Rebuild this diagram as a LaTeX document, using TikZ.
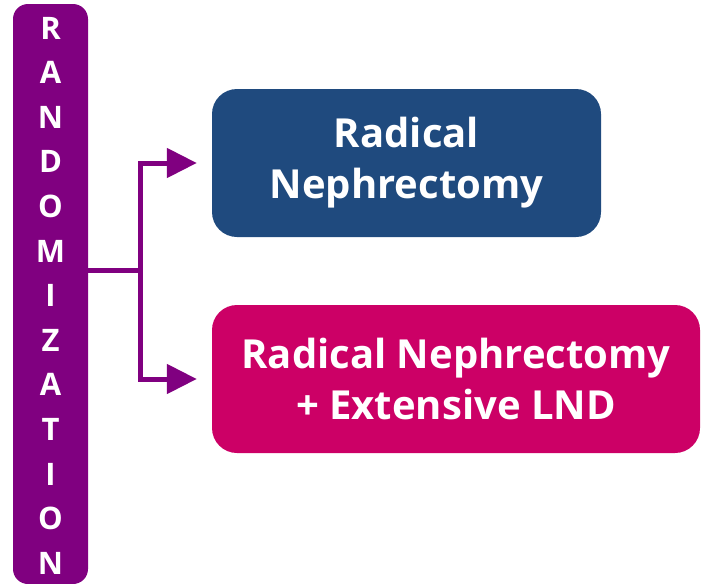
\documentclass[tikz,border=0pt]{standalone}
\usepackage{fontspec}
\setmainfont{Open Sans}
\usepackage{tikz}
\usetikzlibrary{arrows.meta,positioning}
\definecolor{randpurple}{HTML}{800080}
\definecolor{armblue}{HTML}{1F4A7E}
\definecolor{armpink}{HTML}{CC0066}
\tikzset{>/.tip={Triangle[length=30pt,width=29pt]}}
\tikzset{armbox/.style={rectangle,rounded corners=25pt,text=white,align=center,
  minimum height=148pt,font=\bfseries\fontsize{40}{51}\selectfont}}
\tikzset{randletter/.style={text=white,inner sep=0pt,font=\bfseries\fontsize{31}{31}\selectfont}}

\begin{document}
\begin{tikzpicture}[x=1pt,y=1pt]
  \useasboundingbox (0,0) rectangle (702,-584);
  \node(bar)[rectangle,rounded corners=15pt,fill=randpurple,minimum width=75pt,
    minimum height=580pt] at (50.5,-294){};
  \foreach \ch [count=\i from 0] in {R,A,N,D,O,M,I,Z,A,T,I,O,N}
    \node(l\i)[randletter] at (50.5,-28-44.6*\i){\ch};
  \node(nephr)[armbox,fill=armblue,minimum width=389pt] at (406.5,-163)
    {Radical\\Nephrectomy};
  \node(lnd)[armbox,fill=armpink,minimum width=488pt] at (456,-379)
    {Radical Nephrectomy\\+ Extensive LND};
  \coordinate(split) at (140,-270);
  \draw[randpurple,line width=5pt]
   (bar.east |- split) -- (split)
   (split) edge[->,to path={|- (\tikztotarget)},shorten >=15pt] (nephr.west)
   (split) edge[->,to path={|- (\tikztotarget)},shorten >=15pt] (lnd.west);
\end{tikzpicture}
\end{document}
